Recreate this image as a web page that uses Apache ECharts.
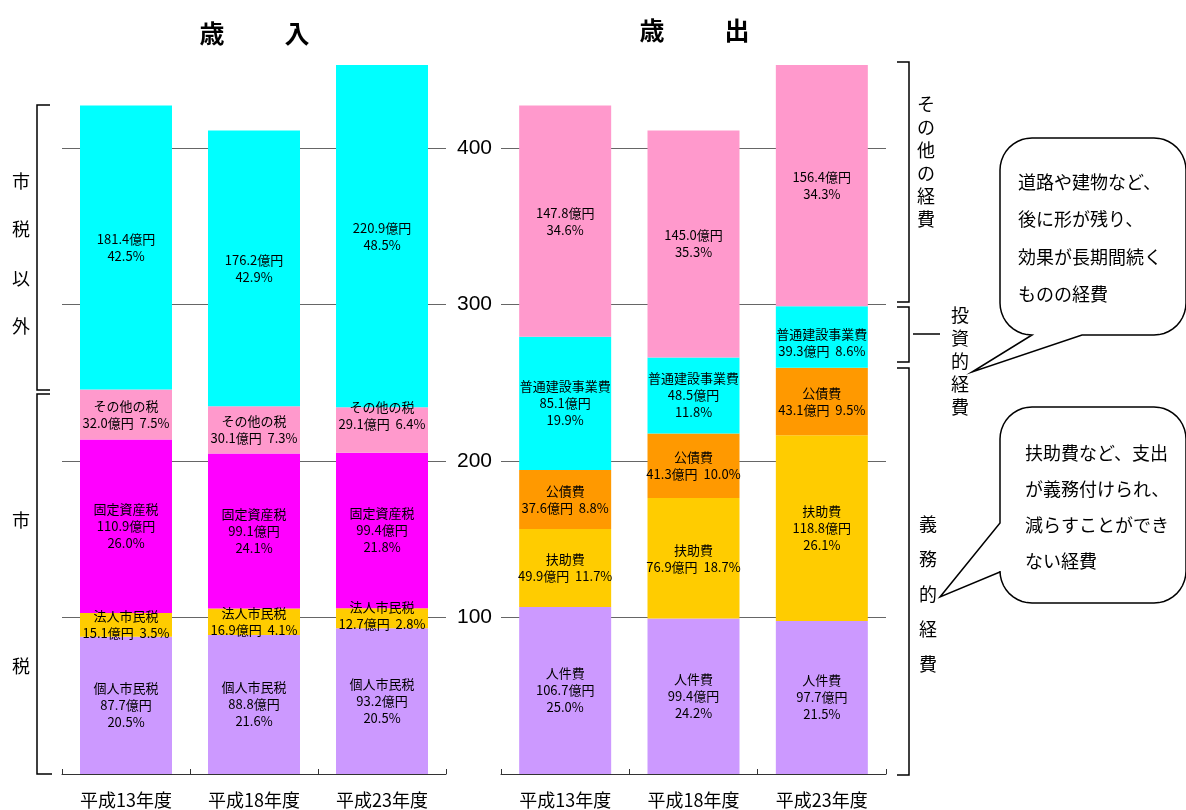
<!DOCTYPE html>
<html lang="ja">
<head>
<meta charset="utf-8">
<title>歳入・歳出の推移</title>
<script src="https://cdn.jsdelivr.net/npm/echarts@6/dist/echarts.min.js"></script>
<style>
  html, body { margin: 0; padding: 0; background: #ffffff; }
  #chart { width: 1186px; height: 810px; }
</style>
</head>
<body>
<div id="chart"></div>
<script>
// 年度
const categories = ['平成13年度', '平成18年度', '平成23年度'];

// 歳入（億円・構成比%）
const individualTax = [87.7, 88.8, 93.2];
const individualTaxPct = [20.5, 21.6, 20.5];
const corporateTax = [15.1, 16.9, 12.7];
const corporateTaxPct = [3.5, 4.1, 2.8];
const propertyTax = [110.9, 99.1, 99.4];
const propertyTaxPct = [26.0, 24.1, 21.8];
const otherTax = [32.0, 30.1, 29.1];
const otherTaxPct = [7.5, 7.3, 6.4];
const nonTaxRevenue = [181.4, 176.2, 220.9];
const nonTaxRevenuePct = [42.5, 42.9, 48.5];

// 歳出（億円・構成比%）
const personnel = [106.7, 99.4, 97.7];
const personnelPct = [25.0, 24.2, 21.5];
const welfare = [49.9, 76.9, 118.8];
const welfarePct = [11.7, 18.7, 26.1];
const debtService = [37.6, 41.3, 43.1];
const debtServicePct = [8.8, 10.0, 9.5];
const construction = [85.1, 48.5, 39.3];
const constructionPct = [19.9, 11.8, 8.6];
const otherExpense = [147.8, 145.0, 156.4];
const otherExpensePct = [34.6, 35.3, 34.3];

// 目盛
const yTicks = { min: 0, max: 453, interval: 100 };

const LABEL_FONT = '"Noto Sans CJK JP", "Noto Sans", sans-serif';

// 積み上げ棒の系列をつくる
// compact: 金額と構成比を1行にまとめるかどうか（年度ごと）
function stackSeries(opts) {
  const { name, values, pcts, grid, color, showName, compact, offsets } = opts;
  return {
    name: name,
    type: 'bar',
    stack: 'g' + grid,
    xAxisIndex: grid,
    yAxisIndex: grid,
    barWidth: 92,
    itemStyle: { color: color },
    data: values.map((v, i) => {
      const item = { value: v };
      if (offsets && offsets[i]) item.label = { offset: offsets[i] };
      return item;
    }),
    label: {
      show: true,
      position: 'inside',
      color: '#000',
      fontSize: 13,
      lineHeight: 17,
      fontFamily: LABEL_FONT,
      formatter: (p) => {
        const i = p.dataIndex;
        const amount = values[i].toFixed(1) + '億円';
        const pct = pcts[i].toFixed(1) + '%';
        const lines = [];
        if (showName) lines.push(name);
        if (compact && compact[i]) {
          lines.push(amount + '  ' + pct);
        } else {
          lines.push(amount, pct);
        }
        return lines.join('\n');
      }
    }
  };
}

const ALL = [true, true, true];
const series = [
  stackSeries({ name: '個人市民税', values: individualTax, pcts: individualTaxPct, grid: 0, color: '#CC99FF', showName: true }),
  stackSeries({ name: '法人市民税', values: corporateTax, pcts: corporateTaxPct, grid: 0, color: '#FFCC00', showName: true, compact: ALL, offsets: [0, 0, [0, -3]] }),
  stackSeries({ name: '固定資産税', values: propertyTax, pcts: propertyTaxPct, grid: 0, color: '#FF00FF', showName: true }),
  stackSeries({ name: 'その他の税', values: otherTax, pcts: otherTaxPct, grid: 0, color: '#FF99CC', showName: true, compact: ALL, offsets: [0, 0, [0, -14]] }),
  stackSeries({ name: '市税以外', values: nonTaxRevenue, pcts: nonTaxRevenuePct, grid: 0, color: '#00FFFF', showName: false }),

  stackSeries({ name: '人件費', values: personnel, pcts: personnelPct, grid: 1, color: '#CC99FF', showName: true }),
  stackSeries({ name: '扶助費', values: welfare, pcts: welfarePct, grid: 1, color: '#FFCC00', showName: true, compact: [true, true, false] }),
  stackSeries({ name: '公債費', values: debtService, pcts: debtServicePct, grid: 1, color: '#FF9900', showName: true, compact: ALL }),
  stackSeries({ name: '普通建設事業費', values: construction, pcts: constructionPct, grid: 1, color: '#00FFFF', showName: true, compact: [false, false, true], offsets: [0, 0, [0, 6]] }),
  stackSeries({ name: 'その他の経費', values: otherExpense, pcts: otherExpensePct, grid: 1, color: '#FF99CC', showName: false })
];

function xAxis(gridIndex) {
  return {
    type: 'category',
    gridIndex: gridIndex,
    data: categories,
    axisLine: { lineStyle: { color: '#333', width: 1 } },
    axisTick: { show: true, inside: true, length: 5, lineStyle: { color: '#333' } },
    axisLabel: {
      color: '#000',
      fontSize: 18,
      margin: 17,
      fontFamily: LABEL_FONT
    }
  };
}

function yAxis(gridIndex, showLabels) {
  return {
    type: 'value',
    gridIndex: gridIndex,
    position: 'left',
    min: yTicks.min,
    max: yTicks.max,
    interval: yTicks.interval,
    axisLine: { show: false },
    axisTick: { show: false },
    splitLine: { show: true, showMaxLine: false, showMinLine: false, lineStyle: { color: '#666', width: 1 } },
    axisLabel: {
      show: showLabels,
      showMinLabel: false,
      showMaxLabel: false,
      color: '#000',
      fontSize: 21,
      margin: 9,
      fontFamily: '"Liberation Sans", Arial, sans-serif'
    }
  };
}

// 注記用の文字（縦書き）
function verticalText(chars, x, y0, step, size) {
  return chars.split('').map((ch, k) => ({
    type: 'text',
    x: x,
    y: y0 + k * step,
    style: {
      text: ch,
      fill: '#000',
      font: size + 'px ' + LABEL_FONT,
      align: 'center',
      verticalAlign: 'middle'
    }
  }));
}

function bracket(points) {
  return {
    type: 'polyline',
    shape: { points: points },
    style: { stroke: '#000', lineWidth: 1.5, fill: null }
  };
}

// 角丸の四角に矢印状の突起をつけた吹き出しの輪郭
function arcPts(cx, cy, r, a0, a1) {
  const pts = [];
  const n = 10;
  for (let k = 0; k <= n; k++) {
    const a = a0 + (a1 - a0) * k / n;
    pts.push([cx + r * Math.cos(a), cy + r * Math.sin(a)]);
  }
  return pts;
}

function bubble(x0, y0, x1, y1, r, tail) {
  const H = Math.PI / 2;
  let pts = [];
  pts = pts.concat(arcPts(x1 - r, y0 + r, r, -H, 0));          // 右上
  pts = pts.concat(arcPts(x1 - r, y1 - r, r, 0, H));           // 右下
  if (tail.side === 'bottom') pts = pts.concat(tail.points);
  pts = pts.concat(arcPts(x0 + r, y1 - r, r, H, 2 * H));       // 左下
  if (tail.side === 'left') pts = pts.concat(tail.points);
  pts = pts.concat(arcPts(x0 + r, y0 + r, r, 2 * H, 3 * H));   // 左上
  return {
    type: 'polygon',
    shape: { points: pts },
    style: { fill: '#fff', stroke: '#000', lineWidth: 1.5 }
  };
}

function bubbleText(lines, x, y0, step) {
  return lines.map((t, k) => ({
    type: 'text',
    x: x,
    y: y0 + k * step,
    style: {
      text: t,
      fill: '#000',
      font: '18px ' + LABEL_FONT,
      align: 'left',
      verticalAlign: 'middle'
    }
  }));
}

const titleFont = 'bold 25px ' + LABEL_FONT;
const noteFont = '18px ' + LABEL_FONT;
const graphics = [
  // 見出し
  { type: 'text', x: 212, y: 33, style: { text: '歳', font: titleFont, fill: '#000', align: 'center', verticalAlign: 'middle' } },
  { type: 'text', x: 297, y: 33, style: { text: '入', font: titleFont, fill: '#000', align: 'center', verticalAlign: 'middle' } },
  { type: 'text', x: 652, y: 30, style: { text: '歳', font: titleFont, fill: '#000', align: 'center', verticalAlign: 'middle' } },
  { type: 'text', x: 737, y: 30, style: { text: '出', font: titleFont, fill: '#000', align: 'center', verticalAlign: 'middle' } },

  // 歳入側の括り
  bracket([[50, 105], [37, 105], [37, 390], [50, 390]]),
  bracket([[50, 394], [37, 394], [37, 774], [52, 774]]),
  ...verticalText('市税以外', 21, 181, 48.5, 18),
  { type: 'text', x: 21, y: 520, style: { text: '市', fill: '#000', font: noteFont, align: 'center', verticalAlign: 'middle' } },
  { type: 'text', x: 21, y: 666, style: { text: '税', fill: '#000', font: noteFont, align: 'center', verticalAlign: 'middle' } },

  // 歳出側の括り
  bracket([[897, 62], [909, 62], [909, 302], [897, 302]]),
  bracket([[897, 307], [909, 307], [909, 362], [897, 362]]),
  bracket([[913, 334], [940, 334]]),
  bracket([[897, 368], [909, 368], [909, 775], [897, 775]]),
  ...verticalText('その他の経費', 926, 104, 23, 18),
  ...verticalText('投資的経費', 960, 315, 23, 18),
  ...verticalText('義務的経費', 928, 524, 35, 18),

  // 吹き出し
  bubble(1000, 138, 1186, 335, 32, { side: 'bottom', points: [[1082, 335], [972, 372], [1032, 335]] }),
  ...bubbleText(['道路や建物など、', '後に形が残り、', '効果が長期間続く', 'ものの経費'], 1018, 182, 37.5),
  bubble(1000, 407, 1186, 603, 32, { side: 'left', points: [[1000, 572], [940, 597], [1000, 523]] }),
  ...bubbleText(['扶助費など、支出', 'が義務付けられ、', '減らすことができ', 'ない経費'], 1025, 453, 36)
];

const chart = echarts.init(document.getElementById('chart'), null, { renderer: 'canvas' });
chart.setOption({
  animation: false,
  backgroundColor: '#ffffff',
  textStyle: { fontFamily: LABEL_FONT },
  grid: [
    { left: 62, right: 1186 - 446, top: 65, bottom: 810 - 774 },
    { left: 501, right: 1186 - 886, top: 65, bottom: 810 - 774 }
  ],
  xAxis: [xAxis(0), xAxis(1)],
  yAxis: [yAxis(0, false), yAxis(1, true)],
  series: series,
  graphic: graphics
});
</script>
</body>
</html>
